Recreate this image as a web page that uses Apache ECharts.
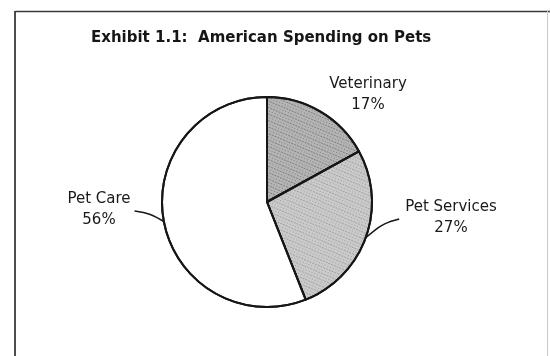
<!DOCTYPE html>
<html>
<head>
<meta charset="utf-8">
<script src="https://cdn.jsdelivr.net/npm/echarts@6/dist/echarts.min.js"></script>
<style>
  html, body { margin: 0; padding: 0; background: #fff; }
  #chart { width: 550px; height: 356px; }
</style>
</head>
<body>
<div id="chart"></div>
<script>
// ---- data ----
var titleText = 'Exhibit 1.1:  American Spending on Pets';
var categories = ['Veterinary', 'Pet Services', 'Pet Care'];
var shares = [17, 27, 56];

// ---- style (not data) ----
var fills = ['#b4b4b4', '#cacaca', '#ffffff'];
var dotColors = ['rgba(40,40,40,0.45)', 'rgba(60,60,60,0.35)', 'rgba(0,0,0,0)'];
var labelAnchors = {           // label centres (px)
  'Veterinary':   [368, 95],
  'Pet Services': [451, 218],
  'Pet Care':     [99, 210]
};

var chart = echarts.init(document.getElementById('chart'), null, { renderer: 'canvas' });

var seriesData = categories.map(function (name, i) {
  var style = {
    color: fills[i],
    decal: {
      symbol: 'rect',
      symbolSize: 0.8,
      dashArrayX: [[1, 2], [2, 1]],
      dashArrayY: [1, 1.5],
      rotation: 0.4,
      color: dotColors[i]
    }
  };
  var item = { name: name, value: shares[i], itemStyle: style };
  if (name === 'Veterinary') item.labelLine = { show: false };
  return item;
});

chart.setOption({
  animation: false,
  backgroundColor: '#ffffff',
  aria: { enabled: true, decal: { show: true } },
  title: {
    text: titleText,
    left: 91,
    top: 29,
    padding: 0,
    textStyle: {
      fontFamily: 'DejaVu Sans',
      fontSize: 15,
      fontWeight: 'bold',
      color: '#161616',
      lineHeight: 18
    }
  },
  graphic: [
    { type: 'line', shape: { x1: 15, y1: 11.5, x2: 550, y2: 11.5 }, style: { stroke: '#3a3a3a', lineWidth: 1.5 } },
    { type: 'line', shape: { x1: 15, y1: 11, x2: 15, y2: 356 }, style: { stroke: '#3a3a3a', lineWidth: 1.8 } },
    { type: 'line', shape: { x1: 547.5, y1: 11, x2: 547.5, y2: 356 }, style: { stroke: '#c8c8c8', lineWidth: 1 } }
  ],
  series: [{
    type: 'pie',
    center: [267, 202],
    radius: 105,
    startAngle: 90,
    clockwise: true,
    avoidLabelOverlap: false,
    itemStyle: { borderColor: '#161616', borderWidth: 2 },
    emphasis: { disabled: true },
    label: {
      show: true,
      position: 'outside',
      formatter: '{b}\n{c}%',
      fontFamily: 'DejaVu Sans',
      fontSize: 15,
      lineHeight: 21,
      color: '#1a1a1a',
      align: 'center'
    },
    labelLine: {
      show: true,
      length: 10,
      length2: 10,
      smooth: 0.4,
      lineStyle: { color: '#161616', width: 1.5 }
    },
    labelLayout: function (params) {
      var name = categories[params.dataIndex];
      var a = labelAnchors[name];
      var out = { x: a[0], y: a[1], align: 'center', verticalAlign: 'middle' };
      var pts = params.labelLinePoints;
      if (pts && name !== 'Veterinary') {
        var start = pts[0];
        var halfW = params.labelRect.width / 2;
        var isLeft = a[0] < 267;
        var endX = isLeft ? a[0] + halfW + 4 : a[0] - halfW - 6;
        var endY = a[1] + 1;
        var midX = isLeft ? endX + (start[0] - endX) * 0.55 : endX - (endX - start[0]) * 0.45;
        var midY = endY + (start[1] - endY) * 0.2;
        out.labelLinePoints = [start, [midX, midY], [endX, endY]];
      }
      return out;
    },
    data: seriesData
  }]
});
</script>
</body>
</html>
